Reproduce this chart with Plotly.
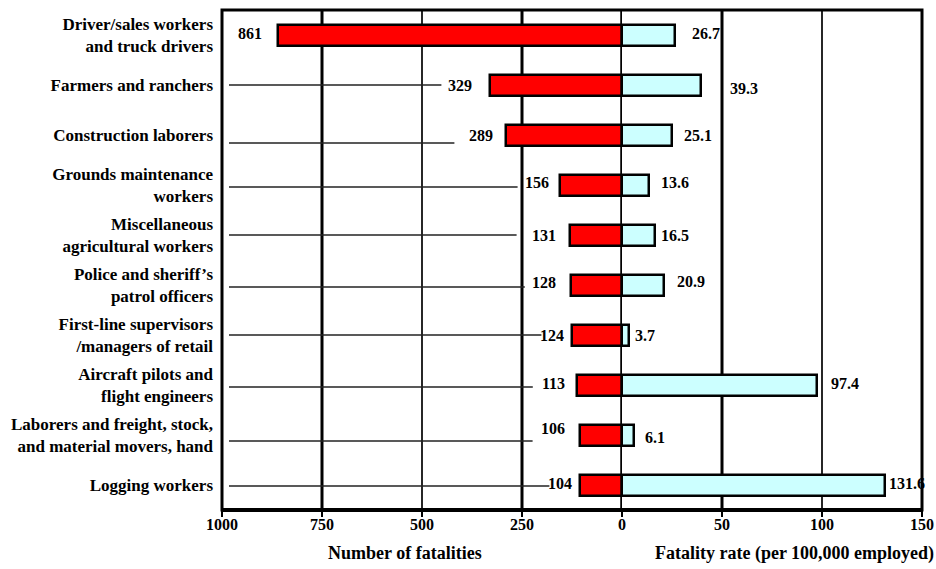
import plotly.graph_objects as go

# ---------------- data ----------------
categories = [
    "Driver/sales workers<br>and truck drivers",
    "Farmers and ranchers",
    "Construction laborers",
    "Grounds maintenance<br>workers",
    "Miscellaneous<br>agricultural workers",
    "Police and sheriff’s<br>patrol officers",
    "First-line supervisors<br>/managers of retail",
    "Aircraft pilots and<br>flight engineers",
    "Laborers and freight, stock,<br>and material movers, hand",
    "Logging workers",
]
fatalities = [861, 329, 289, 156, 131, 128, 124, 113, 106, 104]
rates = [26.7, 39.3, 25.1, 13.6, 16.5, 20.9, 3.7, 97.4, 6.1, 131.6]
left_ticks = [1000, 750, 500, 250, 0]
right_ticks = [50, 100, 150]
left_title = "Number of fatalities"
right_title = "Fatality rate (per 100,000 employed)"

# ---------------- style / layout ----------------
W, H = 936, 569
ML, MR, MT, MB = 222, 14, 10, 59
LEFT_MAX, RIGHT_MAX = 1000, 150
SPLIT = 400 / (W - ML - MR)
PXL = (W - ML - MR) * SPLIT / LEFT_MAX
ROW_PX = (H - MT - MB) / len(categories)
FONT = "Liberation Serif, Times New Roman, Times, DejaVu Serif, serif"
RED, CYAN = "#FF0000", "#CCFFFF"

# label nudges (pixels) to mimic the original placement
left_gap = [14, 16, 11, 9, 12, 13, 6, 10, 13, 6]
left_dy = [2, 0, 0, 3, 0, 3, 0, 2, 7, 2]
right_gap = [15, 27, 10, 10, 4, 11, 4, 12, 9, 2]
right_dy = [2, -3, 0, 3, 0, 4, 0, 2, -2, 2]
leader_gap = [None, 9, 17, 9, 17, 9, 1, 10, 10, 1]
leader_dy = [0, 0, -8, -2, 0, -2, 0, -2, -6, -1]
DIGIT_PX = 8

ypos = list(range(len(categories)))

fig = go.Figure()

# leader lines
lx, ly = [], []
for i, (v, g) in enumerate(zip(fatalities, leader_gap)):
    if g is None:
        continue
    tw = len(str(v)) * DIGIT_PX
    end = v + (left_gap[i] + tw + g) / PXL
    yy = i - leader_dy[i] / ROW_PX
    lx += [LEFT_MAX - 7 / PXL, end, None]
    ly += [yy, yy, None]
fig.add_trace(go.Scatter(x=lx, y=ly, mode="lines", xaxis="x", yaxis="y",
                         line=dict(color="#222", width=1.5), hoverinfo="skip",
                         showlegend=False))

fig.add_trace(go.Bar(x=fatalities, y=ypos, orientation="h", xaxis="x", yaxis="y",
                     marker=dict(color=RED, line=dict(color="black", width=2.5)),
                     width=0.42, showlegend=False))
fig.add_trace(go.Bar(x=rates, y=ypos, orientation="h", xaxis="x2", yaxis="y",
                     marker=dict(color=CYAN, line=dict(color="black", width=2.5)),
                     width=0.42, showlegend=False))

numfont = dict(family=FONT, size=16, color="black", weight="bold")
catfont = dict(family=FONT, size=17, color="black", weight="bold")
titlefont = dict(family=FONT, size=18, color="black", weight="bold")

annotations = []
for i, v in enumerate(fatalities):
    annotations.append(dict(x=v, y=i, xref="x", yref="y", text=str(v),
                            showarrow=False, xanchor="right", yanchor="middle",
                            xshift=-left_gap[i], yshift=left_dy[i], font=numfont))
for i, v in enumerate(rates):
    annotations.append(dict(x=v, y=i, xref="x2", yref="y", text=f"{v}",
                            showarrow=False, xanchor="left", yanchor="middle",
                            xshift=right_gap[i], yshift=right_dy[i], font=numfont))
annotations.append(dict(x=(405 - ML) / (W - ML - MR), y=0, xref="paper", yref="paper",
                        text=left_title, showarrow=False, xanchor="center",
                        yanchor="middle", yshift=-43, font=titlefont))
annotations.append(dict(x=(794 - ML) / (W - ML - MR), y=0, xref="paper", yref="paper",
                        text=right_title, showarrow=False, xanchor="center",
                        yanchor="middle", yshift=-43, font=titlefont))

shapes = []
# gridlines (thick / thin alternate as in the original)
for t in left_ticks[1:]:
    w = 1.7 if t == 500 else 3
    shapes.append(dict(type="line", xref="x", yref="paper", x0=t, x1=t, y0=0, y1=1,
                       line=dict(color="black", width=w), layer="below"))
for t in right_ticks[:-1]:
    w = 1.7 if t == 100 else 3
    shapes.append(dict(type="line", xref="x2", yref="paper", x0=t, x1=t, y0=0, y1=1,
                       line=dict(color="black", width=w), layer="below"))
# zero line above bars
shapes.append(dict(type="line", xref="x", yref="paper", x0=0, x1=0, y0=0, y1=1,
                   line=dict(color="black", width=3), layer="above"))
# frame
shapes.append(dict(type="rect", xref="paper", yref="paper", x0=0, x1=1, y0=0, y1=1,
                   line=dict(color="black", width=3), layer="above"))
shapes.append(dict(type="line", xref="paper", yref="paper", x0=0, x1=1, y0=0, y1=0,
                   line=dict(color="black", width=4), layer="above"))

fig.update_layout(
    width=W, height=H,
    margin=dict(l=ML, r=MR, t=MT, b=MB, autoexpand=False),
    paper_bgcolor="white", plot_bgcolor="white",
    font=dict(family=FONT),
    bargap=0,
    xaxis=dict(domain=[0, SPLIT], range=[LEFT_MAX, 0], tickvals=left_ticks,
               ticktext=[str(t) for t in left_ticks], showgrid=False, zeroline=False,
               ticks="outside", ticklen=6, tickwidth=2, tickcolor="black",
               ticklabelstandoff=-6,
               tickfont=numfont, anchor="y", fixedrange=True, automargin=False),
    xaxis2=dict(domain=[SPLIT, 1], range=[0, RIGHT_MAX], tickvals=right_ticks,
                ticktext=[str(t) for t in right_ticks], showgrid=False, zeroline=False,
                ticks="outside", ticklen=6, tickwidth=2, tickcolor="black",
                ticklabelstandoff=-6,
                tickfont=numfont, anchor="y", fixedrange=True, automargin=False),
    yaxis=dict(range=[len(categories) - 0.5, -0.5], tickvals=ypos, ticktext=categories,
               showgrid=False, zeroline=False, ticks="", ticklabelstandoff=8,
               tickfont=catfont, fixedrange=True, automargin=False),
    annotations=annotations,
    shapes=shapes,
)

fig.write_html("out.html", config={"displayModeBar": False},
               post_script="document.body.style.margin='0';document.body.style.padding='0';")
